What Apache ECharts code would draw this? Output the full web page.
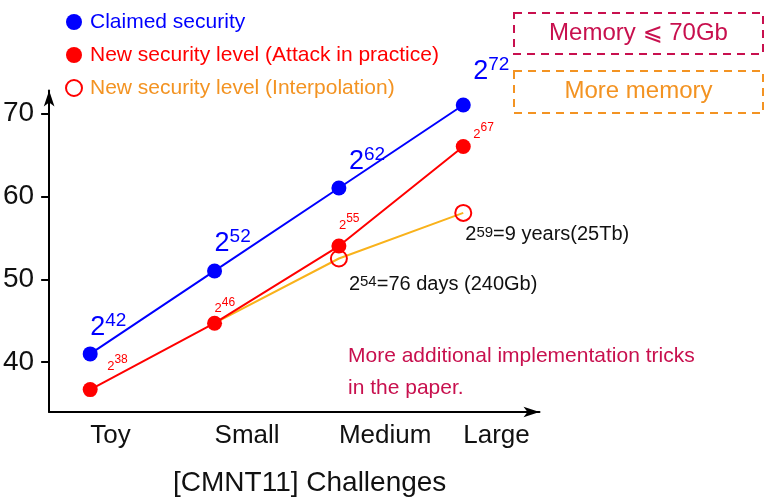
<!DOCTYPE html>
<html><head><meta charset="utf-8">
<script src="https://cdn.jsdelivr.net/npm/echarts@6/dist/echarts.min.js"></script>
<style>html,body{margin:0;padding:0;background:#fff}#c{width:765px;height:501px}</style>
</head><body><div id="c"></div>
<script>
// ---- data ----
const categories = ['Toy', 'Small', 'Medium', 'Large'];
const seriesNames = ['Claimed security', 'New security level (Attack in practice)', 'New security level (Interpolation)'];
const claimed = [41, 51, 61, 71];
const claimedExp = ['42', '52', '62', '72'];
const practice = [36.7, 44.7, 54, 66];
const practiceExp = ['38', '46', '55', '67'];
const interpolation = [null, 44.7, 52.5, 58];
const interpolationExp = ['', '', '54', '59'];
const interpolationNote = ['', '', '=76 days (240Gb)', '=9 years(25Tb)'];
const yTicks = [40, 50, 60, 70];
const xTicks = [0, 1, 2, 3];

// ---- style (label offsets in px) ----
const claimedLabelOffset = [[0, -13], [0, -14], [10, -13], [10, -20]];
const practiceLabelOffset = [[17, -17], [0, -8], [0, -14], [10, -6]];
const interpLabelOffset = [[0, 0], [0, 0], [10, 16], [2, 12]];

const FF = "'Liberation Sans', Arial, Helvetica, sans-serif";
const BLUE = '#0000ff', RED = '#ff0000', GOLD = '#f9b21b', ORANGE = '#f39322', CRIMSON = '#c8104e', INK = '#111111';

const chart = echarts.init(document.getElementById('c'), null, { renderer: 'canvas' });

const claimedData = claimed.map((v, i) => ({
  value: [i, v],
  label: { offset: claimedLabelOffset[i], formatter: '{b|2}{s|' + claimedExp[i] + '}' }
}));
const practiceData = practice.map((v, i) => ({
  value: [i, v],
  label: { offset: practiceLabelOffset[i], formatter: '{b|2}{s|' + practiceExp[i] + '}' }
}));
const interpData = [];
interpolation.forEach((v, i) => {
  if (v === null) return;
  const first = interpData.length === 0;
  interpData.push({
    value: [i, v],
    symbol: first ? 'none' : 'circle',
    label: interpolationExp[i]
      ? { show: true, offset: interpLabelOffset[i], formatter: '{b|2}{s|' + interpolationExp[i] + '}{b|' + interpolationNote[i] + '}' }
      : { show: false }
  });
});

const option = {
  animation: false,
  backgroundColor: '#ffffff',
  textStyle: { fontFamily: FF },
  title: {
    text: '[CMNT11] Challenges',
    left: 173, top: 469, padding: 0,
    textStyle: { fontSize: 28, fontWeight: 'normal', color: INK, lineHeight: 28, fontFamily: FF }
  },
  legend: {
    orient: 'vertical', left: 65, top: 6, padding: 0,
    itemWidth: 16, itemHeight: 16, itemGap: 1,
    icon: 'circle', selectedMode: false,
    textStyle: { fontSize: 21, lineHeight: 18, padding: [0, 0, 14, 3], fontFamily: FF },
    data: [
      { name: seriesNames[0], itemStyle: { color: BLUE }, textStyle: { color: BLUE } },
      { name: seriesNames[1], itemStyle: { color: RED }, textStyle: { color: RED } },
      { name: seriesNames[2], itemStyle: { color: '#fff', borderColor: RED, borderWidth: 2 }, textStyle: { color: ORANGE } }
    ]
  },
  grid: { left: 49, top: 90.5, width: 490.5, height: 321.5, containLabel: false },
  xAxis: {
    type: 'value', min: -0.33, max: 3.613,
    splitLine: { show: false },
    axisLine: { show: true, onZero: false, lineStyle: { color: '#000', width: 2 }, symbol: ['none', 'arrow'], symbolSize: [8, 16] },
    axisTick: { show: false },
    axisLabel: {
      customValues: xTicks,
      formatter: v => categories[Math.round(v)],
      align: 'left', margin: 11, fontSize: 26, lineHeight: 26, color: INK, fontFamily: FF
    }
  },
  yAxis: {
    type: 'value', min: 34, max: 72.75,
    splitLine: { show: false },
    axisLine: { show: true, onZero: false, lineStyle: { color: '#000', width: 2 }, symbol: ['none', 'arrow'], symbolSize: [8, 16] },
    axisTick: { show: true, customValues: yTicks, length: 8, lineStyle: { color: '#000', width: 2 } },
    axisLabel: {
      customValues: yTicks, margin: 15, fontSize: 28, color: INK,
      fontFamily: "'Liberation Sans Narrow', 'Arial Narrow', " + FF
    }
  },
  series: [
    {
      name: seriesNames[2], type: 'line', z: 2, data: interpData,
      symbol: 'circle', symbolSize: 16,
      lineStyle: { color: GOLD, width: 2 },
      itemStyle: { color: 'rgba(255,255,255,0)', borderColor: RED, borderWidth: 2 },
      emphasis: { disabled: true },
      label: {
        show: true, position: 'inside', align: 'left', verticalAlign: 'top',
        rich: {
          b: { fontSize: 20, lineHeight: 20, color: INK, verticalAlign: 'bottom', fontFamily: FF },
          s: { fontSize: 15, lineHeight: 10, color: INK, verticalAlign: 'top', fontFamily: FF }
        }
      }
    },
    {
      name: seriesNames[1], type: 'line', z: 3, data: practiceData,
      symbol: 'circle', symbolSize: 15,
      lineStyle: { color: RED, width: 2 },
      itemStyle: { color: RED },
      emphasis: { disabled: true },
      label: {
        show: true, position: 'inside', align: 'left', verticalAlign: 'bottom',
        rich: {
          b: { fontSize: 13, lineHeight: 19, color: RED, verticalAlign: 'bottom', fontFamily: FF },
          s: { fontSize: 12, lineHeight: 12, color: RED, verticalAlign: 'top', fontFamily: FF }
        }
      }
    },
    {
      name: seriesNames[0], type: 'line', z: 4, data: claimedData,
      symbol: 'circle', symbolSize: 15,
      lineStyle: { color: BLUE, width: 2 },
      itemStyle: { color: BLUE },
      emphasis: { disabled: true },
      label: {
        show: true, position: 'inside', align: 'left', verticalAlign: 'bottom',
        rich: {
          b: { fontSize: 27, lineHeight: 30, color: BLUE, verticalAlign: 'bottom', fontFamily: FF },
          s: { fontSize: 19, lineHeight: 19, color: BLUE, verticalAlign: 'top', fontFamily: FF }
        }
      }
    }
  ],
  graphic: [
    { type: 'rect', shape: { x: 514, y: 13, width: 249, height: 41 },
      style: { fill: null, stroke: CRIMSON, lineWidth: 2, lineDash: [8, 6] }, silent: true },
    { type: 'text', x: 638.5, y: 33.5,
      style: { text: 'Memory \u2A7D 70Gb', fill: CRIMSON, fontSize: 24, fontFamily: "'Liberation Sans', 'DejaVu Sans', sans-serif",
        align: 'center', verticalAlign: 'middle', textAlign: 'center', textVerticalAlign: 'middle' }, silent: true },
    { type: 'rect', shape: { x: 514, y: 71, width: 249, height: 42 },
      style: { fill: null, stroke: ORANGE, lineWidth: 2, lineDash: [8, 6] }, silent: true },
    { type: 'text', x: 638.5, y: 91.5,
      style: { text: 'More memory', fill: ORANGE, fontSize: 24, fontFamily: FF,
        align: 'center', verticalAlign: 'middle', textAlign: 'center', textVerticalAlign: 'middle' }, silent: true },
    { type: 'text', x: 348, y: 340,
      style: { text: 'More additional implementation tricks\nin the paper.', fill: CRIMSON, fontSize: 21, lineHeight: 32, fontFamily: FF,
        align: 'left', verticalAlign: 'top', textAlign: 'left', textVerticalAlign: 'top' }, silent: true }
  ]
};
chart.setOption(option);
</script>
</body></html>
